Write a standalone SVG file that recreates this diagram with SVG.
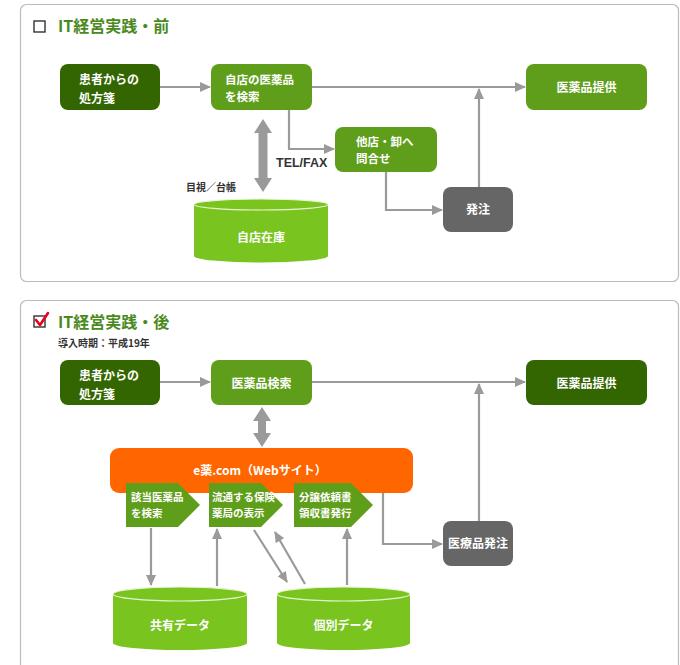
<svg xmlns="http://www.w3.org/2000/svg" width="680" height="665" viewBox="0 0 680 665">
<style>
.panel{fill:#fff;stroke:#bbbbbb;stroke-width:1.2}
.title{font-family:"Noto Sans CJK JP","Liberation Sans",sans-serif;font-size:16px;font-weight:bold;fill:#4a8a1c}
.small{font-family:"Noto Sans CJK JP","Liberation Sans",sans-serif;font-size:10px;font-weight:bold;fill:#333}
.nt{font-family:"Noto Sans CJK JP","Liberation Sans",sans-serif;font-size:12px;font-weight:bold;fill:#fff}
.nt2{font-family:"Noto Sans CJK JP","Liberation Sans",sans-serif;font-size:11.5px;font-weight:bold;fill:#fff}
.ct{font-family:"Noto Sans CJK JP","Liberation Sans",sans-serif;font-size:10.5px;font-weight:bold;fill:#fff}
.dark{fill:#336600}
.mid{fill:#5f9e1b}
.gray{fill:#666666}
.cyl{fill:#7ac41f}
.rim{fill:#7ac41f;stroke:#e8f5d0;stroke-width:1.2}
.ln{fill:none;stroke:#9a9a9a;stroke-width:2.2}
.dbl{fill:#9a9a9a}
</style>
<defs>
<marker id="ah" markerUnits="userSpaceOnUse" markerWidth="11" markerHeight="10" refX="10" refY="5" orient="auto">
<path d="M0,0 L11,5 L0,10 Z" fill="#9a9a9a"/>
</marker>
</defs>

<!-- Panels -->
<rect class="panel" x="20.5" y="4.5" width="658" height="277" rx="6"/>
<rect class="panel" x="20.5" y="300.5" width="658" height="380" rx="6"/>

<!-- Panel 1 title -->
<g id="title1">
<rect x="34" y="21" width="11" height="11" fill="none" stroke="#333" stroke-width="1.4"/>
<text class="title" x="58" y="32">IT経営実践・前</text>
</g>

<!-- Connectors panel 1 -->
<g id="connectors1">
<line class="ln" x1="160" y1="87" x2="210" y2="87" marker-end="url(#ah)"/>
<line class="ln" x1="312" y1="87" x2="525" y2="87" marker-end="url(#ah)"/>
<line class="ln" x1="479" y1="187" x2="479" y2="89" marker-end="url(#ah)"/>
<polyline class="ln" points="289,110 289,149 334,149" marker-end="url(#ah)"/>
<polyline class="ln" points="386,172 386,210 442,210" marker-end="url(#ah)"/>
<path class="dbl" d="M263,119 L272,133 L267.5,133 L267.5,178 L272,178 L263,192 L254,178 L258.5,178 L258.5,133 L254,133 Z"/>
<text class="small" x="186" y="191">目視／台帳</text>
<text x="276" y="167" font-family="Liberation Sans,Arial,sans-serif" font-size="12.5" font-weight="bold" fill="#333">TEL/FAX</text>
</g>

<!-- Nodes panel 1 -->
<g id="p1_patient">
<rect class="dark" x="60" y="64" width="100" height="46" rx="8"/>
<text class="nt" x="79" y="84">患者からの</text>
<text class="nt" x="79" y="103">処方箋</text>
</g>
<g id="p1_search">
<rect class="mid" x="211" y="64" width="101" height="46" rx="8"/>
<text class="nt2" x="225" y="84">自店の医薬品</text>
<text class="nt2" x="225" y="101">を検索</text>
</g>
<g id="p1_provide">
<rect class="mid" x="526" y="64" width="121" height="46" rx="8"/>
<text class="nt" x="586.5" y="92" text-anchor="middle">医薬品提供</text>
</g>
<g id="p1_inquire">
<rect class="mid" x="335" y="127" width="102" height="45" rx="8"/>
<text class="nt2" x="356" y="146">他店・卸へ</text>
<text class="nt2" x="356" y="163">問合せ</text>
</g>
<g id="p1_order">
<rect class="gray" x="443" y="187" width="70" height="45" rx="8"/>
<text class="nt" x="478" y="214" text-anchor="middle">発注</text>
</g>
<g id="p1_stock">
<path class="cyl" d="M194,204.5 L194,256 A67,6.5 0 0 0 328,256 L328,204.5 Z"/>
<ellipse class="rim" cx="261" cy="204.5" rx="67" ry="5.5"/>
<text class="nt" x="261" y="242" text-anchor="middle">自店在庫</text>
</g>

<!-- Panel 2 title -->
<g id="title2">
<rect x="34" y="316" width="11" height="11" fill="none" stroke="#333" stroke-width="1.4"/>
<path d="M36,320 L40,325 L48,313" fill="none" stroke="#e8001c" stroke-width="2.6" stroke-linecap="round" stroke-linejoin="round"/>
<text class="title" x="58" y="328">IT経営実践・後</text>
<text class="small" x="58" y="347">導入時期：平成19年</text>
</g>

<!-- Connectors panel 2 -->
<g id="connectors2">
<line class="ln" x1="160" y1="382" x2="210" y2="382" marker-end="url(#ah)"/>
<line class="ln" x1="312" y1="382" x2="525" y2="382" marker-end="url(#ah)"/>
<line class="ln" x1="479" y1="521" x2="479" y2="384" marker-end="url(#ah)"/>
<polyline class="ln" points="383,493 383,544 442,544" marker-end="url(#ah)"/>
<path class="dbl" d="M262,407 L271,421 L266,421 L266,433 L271,433 L262,447 L253,433 L258,433 L258,421 L253,421 Z"/>
<line class="ln" x1="151" y1="528" x2="151" y2="585" marker-end="url(#ah)"/>
<line class="ln" x1="217" y1="586" x2="217" y2="529" marker-end="url(#ah)"/>
<line class="ln" x1="254" y1="530" x2="287" y2="582" marker-end="url(#ah)"/>
<line class="ln" x1="305" y1="584" x2="275" y2="532" marker-end="url(#ah)"/>
<line class="ln" x1="347" y1="585" x2="347" y2="529" marker-end="url(#ah)"/>
</g>

<!-- Nodes panel 2 -->
<g id="p2_patient">
<rect class="dark" x="60" y="360" width="100" height="45" rx="8"/>
<text class="nt" x="79" y="380">患者からの</text>
<text class="nt" x="79" y="399">処方箋</text>
</g>
<g id="p2_search">
<rect class="mid" x="211" y="360" width="101" height="45" rx="8"/>
<text class="nt" x="261.5" y="388" text-anchor="middle">医薬品検索</text>
</g>
<g id="p2_provide">
<rect class="dark" x="526" y="360" width="121" height="45" rx="8"/>
<text class="nt" x="586.5" y="388" text-anchor="middle">医薬品提供</text>
</g>
<g id="p2_web">
<rect x="110" y="448" width="303" height="45" rx="9" fill="#ff6600"/>
<text class="nt" x="260" y="475" text-anchor="middle" font-weight="normal">e薬.com（Webサイト）</text>
</g>
<g id="p2_step1">
<polygon class="mid" points="126,483 178,483 200,505 178,527 126,527"/>
<text class="ct" x="131" y="501">該当医薬品</text>
<text class="ct" x="131" y="517">を検索</text>
</g>
<g id="p2_step2">
<polygon class="mid" points="209,483 261,483 283,505 261,527 209,527"/>
<text class="ct" x="212" y="501">流通する保険</text>
<text class="ct" x="212" y="517">薬局の表示</text>
</g>
<g id="p2_step3">
<polygon class="mid" points="294,483 351,483 373,505 351,527 294,527"/>
<text class="ct" x="299" y="501">分譲依頼書</text>
<text class="ct" x="299" y="517">領収書発行</text>
</g>
<g id="p2_order">
<rect class="gray" x="443" y="521" width="70" height="45" rx="8"/>
<text class="nt" x="478" y="548" text-anchor="middle">医療品発注</text>
</g>
<g id="p2_shared">
<path class="cyl" d="M113,594 L113,643 A67,7 0 0 0 247,643 L247,594 Z"/>
<ellipse class="rim" cx="180" cy="594" rx="67" ry="7"/>
<text class="nt" x="180" y="630" text-anchor="middle">共有データ</text>
</g>
<g id="p2_private">
<path class="cyl" d="M277,594 L277,643 A66.5,7 0 0 0 410,643 L410,594 Z"/>
<ellipse class="rim" cx="343.5" cy="594" rx="66.5" ry="7"/>
<text class="nt" x="343.5" y="630" text-anchor="middle">個別データ</text>
</g>
</svg>
